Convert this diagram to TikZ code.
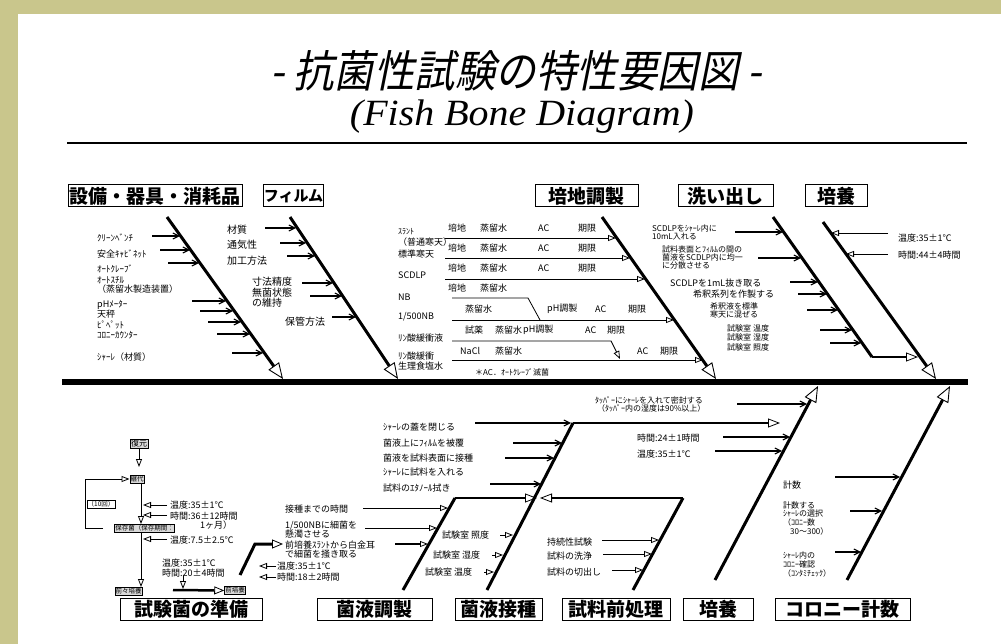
\documentclass[tikz,border=0pt]{standalone}
\usepackage{fontspec}
\usepackage{graphicx}
\setmainfont{Noto Sans CJK JP}
\newfontfamily\titlefont[FakeSlant=0.2,FakeStretch=0.92]{Noto Sans CJK JP}
\newfontfamily\subfont[FakeStretch=1.08]{Liberation Serif}
\usetikzlibrary{arrows.meta}
\definecolor{olivebg}{RGB}{201,198,140}
\tikzset{
  lab/.style={anchor=west,inner sep=0pt,font=\fontsize{9}{9}\selectfont},
  labs/.style={anchor=west,inner sep=0pt,font=\fontsize{8}{8}\selectfont},
  labf/.style={anchor=west,inner sep=0pt,font=\fontsize{10}{10}\selectfont},
  cat/.style={draw,line width=1pt,inner sep=0pt,minimum height=22pt,font=\fontsize{19}{19}\selectfont\bfseries},
  bone/.style={line width=3pt,-{Triangle[open,length=16pt,width=13pt,line width=0.9pt]}},
  boneplain/.style={line width=3pt},
  hline/.style={line width=2.2pt,-{Triangle[open,length=12pt,width=9pt,line width=0.8pt]}},
  br/.style={line width=1.1pt,-{Straight Barb[length=6pt,width=6pt]}},
  bro/.style={line width=0.9pt,-{Triangle[open,length=8pt,width=6pt,line width=0.8pt]}},
  rowl/.style={line width=0.8pt},
  smallbox/.style={draw,fill=gray!30,inner sep=0.8pt,font=\fontsize{6.5}{6.5}\selectfont},
}
\begin{document}
\begin{tikzpicture}[x=1pt,y=-1pt]
\fill[olivebg] (0,0) rectangle (1001,644);
\fill[white] (18,14) rectangle (1001,644);
\useasboundingbox (0,0) rectangle (1001,644);

% title
\node[inner sep=0pt,font=\fontsize{44}{44}\titlefont] (title) at (516,71) {- 抗菌性試験の特性要因図 -};
\node[inner sep=0pt,font=\fontsize{37}{37}\subfont\itshape] (subtitle) at (522,117) {(Fish Bone Diagram)};
\draw[line width=2.5pt] (67,143) -- (967,143);

% spine
\draw[line width=6pt] (62,382) -- (968,382);

% upper categories
\node[cat,minimum width=174pt] (c1) at (155,196) {設備・器具・消耗品};
\node[cat,minimum width=57pt,font=\fontsize{15}{15}\selectfont\bfseries] (c2) at (293.5,196) {フィルム};
\node[cat,minimum width=103pt] (c3) at (586.5,196) {培地調製};
\node[cat,minimum width=95pt] (c4) at (725.5,196) {洗い出し};
\node[cat,minimum width=62pt] (c5) at (836,196) {培養};

% lower categories
\node[cat,minimum width=142pt] (d1) at (191,609) {試験菌の準備};
\node[cat,minimum width=115pt] (d2) at (374.5,609) {菌液調製};
\node[cat,minimum width=87pt] (d3) at (498.5,609) {菌液接種};
\node[cat,minimum width=108pt] (d4) at (616,609) {試料前処理};
\node[cat,minimum width=70pt] (d5) at (718,609) {培養};
\node[cat,minimum width=135pt] (d6) at (842.5,609) {コロニー計数};

% ---- upper bone 1
\coordinate (b1s) at (167,217); \coordinate (b1e) at (283,379);
\draw[bone] (b1s) -- (b1e);
\node[lab] (a1) at (97,238) {ｸﾘｰﾝﾍﾞﾝﾁ};
\node[lab] (a2) at (97,254) {安全ｷｬﾋﾞﾈｯﾄ};
\node[lab] (a3) at (97,269) {ｵｰﾄｸﾚｰﾌﾞ};
\node[lab] (a4) at (97,280) {ｵｰﾄｽﾁﾙ};
\node[lab] (a5) at (97,289) {（蒸留水製造装置）};
\node[lab] (a6) at (97,305) {pHﾒｰﾀｰ};
\node[lab] (a7) at (97,314) {天秤};
\node[lab] (a8) at (97,325) {ﾋﾟﾍﾟｯﾄ};
\node[lab] (a9) at (97,335) {ｺﾛﾆｰｶｳﾝﾀｰ};
\node[lab] (a10) at (97,357) {ｼｬｰﾚ（材質）};
\draw[br] (152,236) -- (180,236);
\draw[br] (160,250) -- (190,250);
\draw[br] (168,263) -- (199,263);
\draw[br] (192,301) -- (226,301);
\draw[br] (200,311) -- (233,311);
\draw[br] (208,322) -- (241,322);
\draw[br] (217,334) -- (250,334);
\draw[br] (232,353) -- (263,353);

% ---- film bone
\coordinate (b2s) at (290,217); \coordinate (b2e) at (398,379);
\draw[bone] (b2s) -- (b2e);
\node[labf] (f1) at (227,230) {材質};
\node[labf] (f2) at (227,245) {通気性};
\node[labf] (f3) at (227,261) {加工方法};
\node[labf] (f4) at (252,282) {寸法精度};
\node[labf] (f5) at (252,293) {無菌状態};
\node[labf] (f6) at (252,303) {の維持};
\node[labf] (f7) at (285,322) {保管方法};
\draw[br] (265,228) -- (296,228);
\draw[br] (280,243) -- (306,243);
\draw[br] (287,256) -- (315,256);
\draw[br] (302,283) -- (333,283);
\draw[br] (310,296) -- (342,296);
\draw[br] (332,317) -- (356,317);

% ---- medium bone
\coordinate (b3s) at (602,217); \coordinate (b3e) at (716,379);
\draw[bone] (b3s) -- (b3e);
\node[labs] (m0) at (398,232) {ｽﾗﾝﾄ};
\node[lab] (m1) at (398,242) {（普通寒天）};
\node[lab] (m2) at (398,254) {標準寒天};
\node[lab] (m3) at (398,275) {SCDLP};
\node[lab] (m4) at (398,297) {NB};
\node[lab] (m5) at (398,317) {1/500NB};
\node[lab] (m6) at (398,338) {ﾘﾝ酸緩衝液};
\node[lab] (m7) at (398,356) {ﾘﾝ酸緩衝};
\node[lab] (m8) at (398,366) {生理食塩水};
\node[labs] (m9) at (475,372) {＊AC．ｵｰﾄｸﾚｰﾌﾞ滅菌};
\foreach \y in {228,248,268} {
  \node[lab] at (448,\y) {培地};
  \node[lab] at (480,\y) {蒸留水};
  \node[lab] at (538,\y) {AC};
  \node[lab] at (578,\y) {期限};
}
\node[lab] at (448,288) {培地};
\node[lab] at (480,288) {蒸留水};
\node[lab] at (465,309) {蒸留水};
\node[lab] at (547,309) {pH調製};
\node[lab] at (595,309) {AC};
\node[lab] at (628,309) {期限};
\node[lab] at (465,330) {試薬};
\node[lab] at (495,330) {蒸留水};
\node[lab] at (523,330) {pH調製};
\node[lab] at (585,330) {AC};
\node[lab] at (607,330) {期限};
\node[lab] at (460,351) {NaCl};
\node[lab] at (495,351) {蒸留水};
\node[lab] at (637,351) {AC};
\node[lab] at (660,351) {期限};
\draw[bro] (445,238) -- (616,238);
\draw[bro] (445,258) -- (630,258);
\draw[bro] (445,279) -- (645,279);
\draw[rowl] (452,298) -- (528,298) -- (540,320);
\draw[bro] (452,320) -- (674,320);
\draw[bro] (452,341) -- (611,341) -- (620,359);
\draw[bro] (452,360) -- (703,360);

% ---- wash bone
\coordinate (b4s) at (773,217); \coordinate (b4m) at (872,357);
\draw[boneplain] (b4s) -- (b4m);
\draw[hline,line width=1.6pt] (b4m) -- (918,357);
\node[labs] at (652,228) {SCDLPをｼｬｰﾚ内に};
\node[labs] at (652,237) {10mL入れる};
\node[labs] at (662,249) {試料表面とﾌｨﾙﾑの間の};
\node[labs] at (662,257) {菌液をSCDLP内に均一};
\node[labs] at (662,265) {に分散させる};
\node[lab] at (670,283) {SCDLPを1mL抜き取る};
\node[lab] at (693,294) {希釈系列を作製する};
\node[labs] at (710,306) {希釈液を標準};
\node[labs] at (710,314) {寒天に混ぜる};
\node[labs] at (727,328) {試験室 温度};
\node[labs] at (727,337) {試験室 湿度};
\node[labs] at (727,347) {試験室 照度};
\draw[br] (735,232) -- (783,232);
\draw[br] (758,258) -- (801,258);
\draw[br] (790,282) -- (818,282);
\draw[br] (798,294) -- (827,294);
\draw[br] (807,310) -- (838,310);
\draw[br] (820,330) -- (852,330);
\draw[br] (830,343) -- (861,343);

% ---- incubation (upper)
\coordinate (b5s) at (823,222); \coordinate (b5e) at (936,379);
\draw[bone] (b5s) -- (b5e);
\node[lab] at (898,238) {温度:35±1℃};
\node[lab] at (898,255) {時間:44±4時間};
\draw[bro] (888,233) -- (831,233);
\draw[bro] (888,254) -- (846,254);

% ---- incubation (lower)
\coordinate (c1s) at (715,580); \coordinate (c1e) at (818,386);
\draw[bone] (c1s) -- (c1e);
\node[labs] at (595,400) {ﾀｯﾊﾟｰにｼｬｰﾚを入れて密封する};
\node[labs] at (597,408) {（ﾀｯﾊﾟｰ内の湿度は90\%以上）};
\node[lab] at (637,438) {時間:24±1時間};
\node[lab] at (637,454) {温度:35±1℃};
\draw[br] (737,404) -- (807,404);
\draw[br] (723,437) -- (790,437);
\draw[br] (715,451) -- (782,451);

% ---- colony count
\coordinate (c2s) at (847,580); \coordinate (c2e) at (950,386);
\draw[bone] (c2s) -- (c2e);
\node[lab] at (783,485) {計数};
\node[labs] at (783,505) {計数する};
\node[labs] at (783,513) {ｼｬｰﾚの選択};
\node[labs] at (783,522) {（ｺﾛﾆｰ数};
\node[labs] at (790,531) {30～300）};
\node[labs] at (783,555) {ｼｬｰﾚ内の};
\node[labs] at (783,564) {ｺﾛﾆｰ確認};
\node[labs] at (783,573) {（ｺﾝﾀﾐﾁｪｯｸ）};
\draw[br] (835,477) -- (900,477);
\draw[br] (850,511) -- (882,511);
\draw[br] (835,552) -- (861,552);

% ---- sample pretreatment
\coordinate (c3s) at (633,590); \coordinate (c3m) at (683,498);
\draw[boneplain] (c3s) -- (c3m);
\draw[hline] (c3m) -- (540,498);
\node[lab] at (547,542) {持続性試験};
\node[lab] at (547,556) {試料の洗浄};
\node[lab] at (547,572) {試料の切出し};
\draw[bro] (602,540) -- (659,540);
\draw[bro] (603,554) -- (652,554);
\draw[bro] (612,570) -- (643,570);

% ---- inoculation
\coordinate (c4s) at (487,590); \coordinate (c4m) at (573,423);
\draw[boneplain] (c4s) -- (c4m);
\draw[hline] (c4m) -- (780,423);
\node[lab] at (383,427) {ｼｬｰﾚの蓋を閉じる};
\node[lab] at (383,443) {菌液上にﾌｨﾙﾑを被覆};
\node[lab] at (383,458) {菌液を試料表面に接種};
\node[lab] at (383,472) {ｼｬｰﾚに試料を入れる};
\node[lab] at (383,488) {試料のｴﾀﾉｰﾙ拭き};
\draw[br] (475,423) -- (571,423);
\draw[br] (513,443) -- (562,443);
\draw[br] (505,458) -- (554,458);
\draw[br] (490,484) -- (541,484);
\node[lab] at (442,535) {試験室 照度};
\node[lab] at (433,555) {試験室 湿度};
\node[lab] at (425,572) {試験室 温度};
\draw[bro] (500,535) -- (513,535);
\draw[bro] (492,555) -- (503,555);
\draw[bro] (484,572) -- (494,572);

% ---- suspension prep
\coordinate (c5s) at (403,590); \coordinate (c5m) at (455,498);
\draw[boneplain] (c5s) -- (c5m);
\draw[hline] (c5m) -- (537,498);
\node[lab] at (285,509) {接種までの時間};
\node[lab] at (285,526) {1/500NBに細菌を};
\node[lab] at (285,534) {懸濁させる};
\node[lab] at (285,545) {前培養ｽﾗﾝﾄから白金耳};
\node[lab] at (285,554) {で細菌を掻き取る};
\node[lab] at (277,566) {温度:35±1℃};
\node[lab] at (277,577) {時間:18±2時間};
\draw[bro] (363,508) -- (448,508);
\draw[bro] (365,528) -- (437,528);
\draw[bro,line width=2pt] (395,544) -- (428,544);
\draw[bro] (276,566) -- (259,566);
\draw[bro] (276,577) -- (259,577);

% ---- test strain preparation
\draw[line width=3pt,-{Triangle[open,length=11pt,width=9pt,line width=0.8pt]}] (240,575) -- (255,544) -- (283,544);
\node[smallbox,font=\fontsize{8}{8}\selectfont] (fk) at (139,443.5) {復元};
\node[smallbox] (kd) at (137,479) {継代};
\draw[bro] (fk.south) -- (139,467);
\draw[bro] (103,528) -- (85,528) -- (85,479) -- (kd.west);
\node[smallbox,fill=white] (n10) at (101,504) {（10回）};
\node[smallbox] (hz) at (144.5,528.5) {保存菌（保存期間：};
\draw[bro] (141,483) -- (141,524);
\draw[bro] (167,505) -- (143,505);
\draw[bro] (167,515) -- (143,515);
\draw[bro] (167,539) -- (143,539);
\node[lab] at (170,505) {温度:35±1℃};
\node[lab] at (170,516) {時間:36±12時間};
\node[lab] at (200,525) {1ヶ月）};
\node[lab] at (170,540) {温度:7.5±2.5℃};
\node[smallbox] (zz) at (128.5,591) {前々培養};
\draw[bro] (141,532) -- (141,587);
\node[lab] at (162,563) {温度:35±1℃};
\node[lab] at (162,573) {時間:20±4時間};
\draw[bro] (183,576) -- (183,589);
\node[smallbox] (zb) at (235,590.5) {前培養};
\draw[line width=2.5pt,-{Triangle[open,length=10pt,width=8pt,line width=0.8pt]}] (173,590) -- (zb.west);
\end{tikzpicture}
\end{document}
